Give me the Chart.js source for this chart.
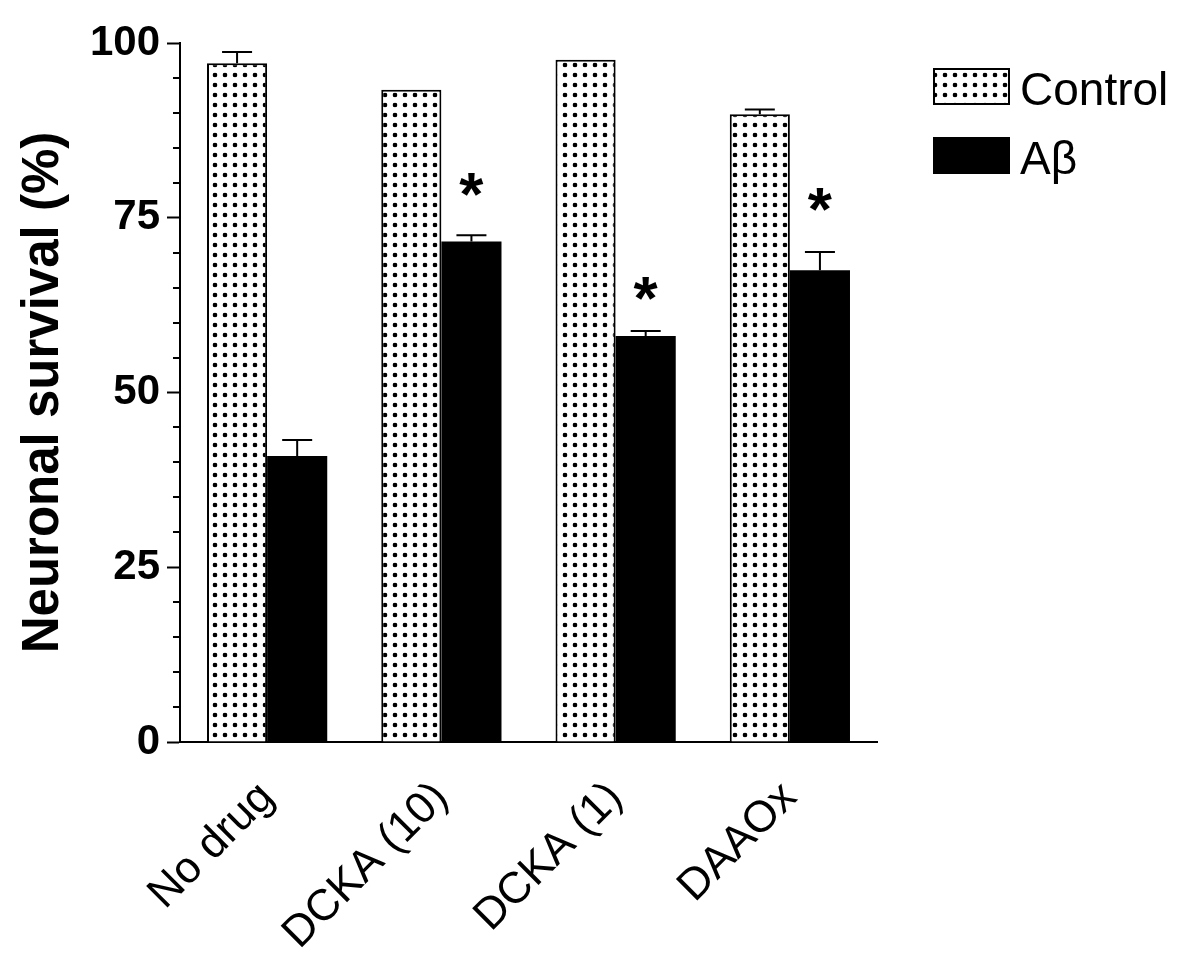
<!DOCTYPE html>
<html>
<head>
<meta charset="utf-8">
<title>Neuronal survival</title>
<script src="https://cdn.jsdelivr.net/npm/chart.js@4.4.1/dist/chart.umd.min.js"></script>
<style>
  html, body { margin: 0; padding: 0; background: #fff; }
</style>
</head>
<body>
<canvas id="survivalChart" width="1200" height="960"></canvas>
<script>
// Values (%)
const groups = ['No drug', 'DCKA (10)', 'DCKA (1)', 'DAAOx'];
const controlValues = [97.1, 93.3, 97.6, 89.8];
const controlErrors = [1.6, 0, 0, 0.7];
const abetaValues = [40.9, 71.6, 58.1, 67.5];
const abetaErrors = [2.3, 0.9, 0.7, 2.6];
const starLevels = [null, 80.5, 65.7, 78.4]; // centre of the * above the Aβ bar
const yTicks = [0, 25, 50, 75, 100];

const family = "'Liberation Sans', Arial, sans-serif";

// white fill with black dots for the control bars
function dotPattern() {
    const c = document.createElement('canvas');
    c.width = 10;
    c.height = 10;
    const g = c.getContext('2d');
    g.fillStyle = '#fff';
    g.fillRect(0, 0, 10, 10);
    g.fillStyle = '#000';
    g.beginPath();
    g.arc(5, 5, 2.3, 0, Math.PI * 2);
    g.fill();
    g.fillRect(3.4, 3.4, 3.2, 3.2);
    return g.createPattern(c, 'repeat');
}

// SEM bars (upper half only) and significance stars
const errorBars = {
    id: 'errorBars',
    afterDatasetsDraw(chart) {
        const { ctx } = chart;
        const y = chart.scales.y;
        const errs = [controlErrors, abetaErrors];
        ctx.save();
        ctx.strokeStyle = '#000';
        ctx.lineWidth = 2;
        chart.data.datasets.forEach((ds, i) => {
            chart.getDatasetMeta(i).data.forEach((bar, j) => {
                const e = errs[i][j];
                if (!e) return;
                const top = y.getPixelForValue(ds.data[j] + e);
                ctx.beginPath();
                ctx.moveTo(bar.x, bar.y);
                ctx.lineTo(bar.x, top);
                ctx.moveTo(bar.x - 15, top);
                ctx.lineTo(bar.x + 15, top);
                ctx.stroke();
            });
        });
        ctx.fillStyle = '#000';
        ctx.font = 'bold 62px ' + family;
        ctx.textAlign = 'center';
        ctx.textBaseline = 'alphabetic';
        chart.getDatasetMeta(1).data.forEach((bar, j) => {
            if (starLevels[j] == null) return;
            ctx.fillText('*', bar.x, y.getPixelForValue(starLevels[j]) + 36);
        });
        ctx.restore();
    }
};

// short ticks every 5 %
const minorTicks = {
    id: 'minorTicks',
    afterDraw(chart) {
        const { ctx } = chart;
        const y = chart.scales.y;
        ctx.save();
        ctx.strokeStyle = '#000';
        ctx.lineWidth = 2;
        for (let v = 5; v < 100; v += 5) {
            if (v % 25 === 0) continue;
            const py = Math.round(y.getPixelForValue(v));
            ctx.beginPath();
            ctx.moveTo(y.right - 7, py);
            ctx.lineTo(y.right, py);
            ctx.stroke();
        }
        ctx.restore();
    }
};

// legend to the right of the plot
const boxLegend = {
    id: 'boxLegend',
    afterDraw(chart) {
        const { ctx, chartArea } = chart;
        const left = chartArea.right + 56;
        ctx.save();
        chart.data.datasets.forEach((ds, i) => {
            const top = chartArea.top + 25 + i * 69;
            ctx.fillStyle = ds.backgroundColor;
            ctx.fillRect(left, top, 77, 37);
            ctx.strokeStyle = '#000';
            ctx.lineWidth = 2;
            ctx.strokeRect(left + 1, top + 1, 75, 35);
            ctx.fillStyle = '#000';
            ctx.font = '46px ' + family;
            ctx.textBaseline = 'alphabetic';
            ctx.fillText(ds.label, left + 87, top + 37);
        });
        ctx.restore();
    }
};

const ctx = document.getElementById('survivalChart').getContext('2d');
const survivalChart = new Chart(ctx, {
    type: 'bar',
    data: {
        labels: groups,
        datasets: [{
            label: 'Control',
            data: controlValues,
            backgroundColor: dotPattern(),
            borderColor: '#000',
            borderWidth: 2,
            categoryPercentage: 0.69,
            barPercentage: 1
        }, {
            label: 'Aβ',
            data: abetaValues,
            backgroundColor: '#000',
            borderColor: '#000',
            borderWidth: 0,
            categoryPercentage: 0.69,
            barPercentage: 1
        }]
    },
    options: {
        responsive: false,
        animation: false,
        layout: {
            padding: { top: 43, right: 323, bottom: 0, left: 0 }
        },
        plugins: {
            legend: { display: false },
            tooltip: { enabled: false }
        },
        scales: {
            x: {
                grid: { display: false },
                border: { display: true, color: '#000', width: 2 },
                ticks: {
                    color: '#000',
                    font: { family: family, size: 44 },
                    minRotation: 45,
                    maxRotation: 45,
                    padding: 22
                },
                afterFit(scale) { scale.height = 218; }
            },
            y: {
                min: 0,
                max: 100,
                afterBuildTicks(scale) {
                    scale.ticks = yTicks.map(v => ({ value: v }));
                },
                grid: {
                    drawOnChartArea: false,
                    drawTicks: true,
                    tickLength: 13,
                    tickWidth: 2,
                    tickColor: '#000'
                },
                border: { color: '#000', width: 2 },
                ticks: {
                    color: '#000',
                    font: { family: family, size: 42, weight: 'bold' },
                    padding: 7
                },
                title: {
                    display: true,
                    text: 'Neuronal survival (%)',
                    color: '#000',
                    font: { family: family, size: 51, weight: 'bold' },
                    padding: { top: 13, bottom: 0 }
                },
                afterFit(scale) { scale.width = 180; }
            }
        }
    },
    plugins: [errorBars, minorTicks, boxLegend]
});
</script>
</body>
</html>
